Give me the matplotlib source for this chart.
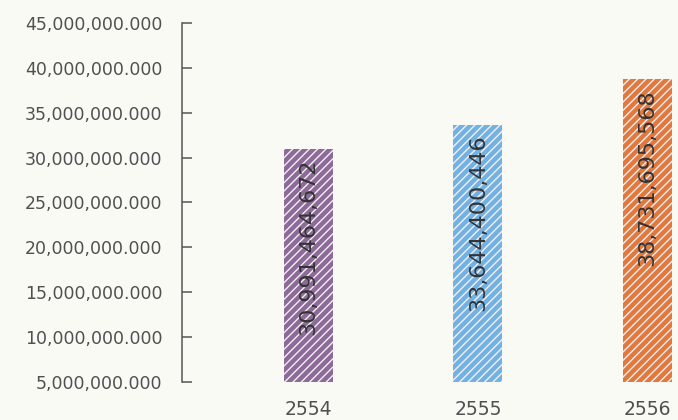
import matplotlib
matplotlib.use("Agg")
import matplotlib.pyplot as plt
from matplotlib.ticker import FuncFormatter, MultipleLocator

years = ["2554", "2555", "2556"]
values = [30991464672, 33644400446, 38731695568]
value_labels = ["30,991,464,672", "33,644,400,446", "38,731,695,568"]
bar_colors = ["#8c6b98", "#72b2e2", "#e2793c"]

plt.rcParams["font.family"] = ["DejaVu Sans"]
plt.rcParams["hatch.linewidth"] = 1.0

bg = "#fafaf5"
fig = plt.figure(figsize=(6.78, 4.2), dpi=100, facecolor=bg)
ax = fig.add_axes([0.268, 0.0905, 0.732, 0.855], facecolor=bg)

x = range(len(years))
ax.bar(x, values, width=0.29, color=bar_colors, edgecolor="#f4eef6",
       linewidth=0, hatch="////")

for xi, v, lab in zip(x, values, value_labels):
    ax.annotate(lab, (xi, v), xytext=(0, -7), textcoords="offset points",
                rotation=90, ha="center", va="top", fontsize=16, color="#333333")

ax.set_ylim(5e9, 45e9)
ax.set_xlim(-0.751, 2.183)
ax.yaxis.set_major_locator(MultipleLocator(5e9))
ax.yaxis.set_major_formatter(FuncFormatter(lambda v, p: f"{int(v):,}"[:-4] + ".000"))

ax.set_xticks(list(x))
ax.set_xticklabels(years)

for s in ["top", "right", "bottom"]:
    ax.spines[s].set_visible(False)
ax.spines["left"].set_color("#555555")
ax.spines["left"].set_linewidth(1.1)

ax.tick_params(axis="y", direction="in", length=7, width=1.1, color="#555555",
               pad=14, labelsize=12.5, labelcolor="#505050")
ax.tick_params(axis="x", length=0, pad=13, labelsize=13.5, labelcolor="#505050")

fig.savefig("out.png", dpi=100, facecolor=bg)
